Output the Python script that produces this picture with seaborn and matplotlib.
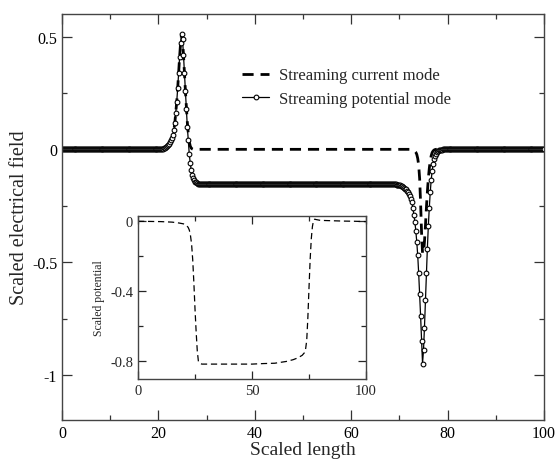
import numpy as np
import pandas as pd
import seaborn as sns
import matplotlib
matplotlib.use("Agg")
import matplotlib.pyplot as plt
from matplotlib.ticker import MultipleLocator

# ---------------- data ----------------
# flat parts of the profiles, sampled every 0.2 length units
grid_left = np.arange(0.0, 20.21, 0.2)
grid_mid = np.arange(29.2, 69.01, 0.2)
grid_right = np.arange(80.2, 100.01, 0.2)
level_left = 0.0
level_mid_potential = -0.155
level_mid_current = 0.0
level_right = 0.0

# peak near x = 25 (x from 20.4 to 29.0, step 0.2)
peak_x = np.round(np.arange(20.4, 29.01, 0.2), 1)
peak_potential = [0.0, 0.001, 0.002, 0.003, 0.005, 0.007, 0.010, 0.014, 0.018, 0.024,
                  0.031, 0.040, 0.050, 0.062, 0.085, 0.115, 0.16, 0.21, 0.27, 0.34,
                  0.41, 0.47, 0.51, 0.49, 0.42, 0.34, 0.26, 0.18, 0.10, 0.04,
                  -0.02, -0.06, -0.09, -0.115, -0.128, -0.137, -0.143, -0.147, -0.150, -0.152,
                  -0.153, -0.154, -0.155, -0.155]
peak_current = [0.0, 0.001, 0.002, 0.003, 0.005, 0.007, 0.010, 0.014, 0.018, 0.024,
                0.031, 0.040, 0.050, 0.062, 0.085, 0.115, 0.16, 0.21, 0.27, 0.34,
                0.41, 0.47, 0.51, 0.49, 0.42, 0.34, 0.26, 0.19, 0.12, 0.07,
                0.035, 0.015, 0.006, 0.002, 0.0, 0.0, 0.0, 0.0, 0.0, 0.0,
                0.0, 0.0, 0.0, 0.0]

# dip near x = 75 (x from 69.2 to 80.0, step 0.2)
dip_x = np.round(np.arange(69.2, 80.01, 0.2), 1)
dip_potential = [-0.155, -0.156, -0.157, -0.158, -0.159, -0.160, -0.162, -0.164, -0.167, -0.170,
                 -0.174, -0.178, -0.184, -0.19, -0.198, -0.207, -0.218, -0.235, -0.26, -0.29,
                 -0.32, -0.36, -0.41, -0.47, -0.55, -0.64, -0.74, -0.85, -0.95, -0.89,
                 -0.79, -0.67, -0.55, -0.44, -0.34, -0.26, -0.19, -0.135, -0.095, -0.065,
                 -0.045, -0.03, -0.02, -0.013, -0.008, -0.005, -0.003, -0.002, -0.001, -0.0005,
                 0.0, 0.0, 0.0, 0.0, 0.0]
dip_current = [0.0, 0.0, 0.0, 0.0, 0.0, 0.0, 0.0, 0.0, 0.0, 0.0,
               0.0, 0.0, 0.0, 0.0, 0.0, 0.0, -0.001, -0.002, -0.003, -0.005,
               -0.008, -0.013, -0.022, -0.04, -0.07, -0.13, -0.24, -0.37, -0.46, -0.46,
               -0.41, -0.34, -0.26, -0.19, -0.13, -0.085, -0.05, -0.028, -0.014, -0.007,
               -0.003, -0.001, 0.0, 0.0, 0.0, 0.0, 0.0, 0.0, 0.0, 0.0,
               0.0, 0.0, 0.0, 0.0, 0.0]

# inset: scaled potential
inset_x = [0, 10, 15, 18, 20, 21, 22, 22.5, 23, 23.5, 24, 24.5, 25, 25.5, 26, 26.5, 27, 28,
           30, 40, 50, 55, 60, 65, 68, 70, 72, 73, 73.5, 74, 74.5, 75, 75.5, 76, 76.5,
           77, 77.5, 78, 80, 85, 90, 95, 100]
inset_y = [0, -0.002, -0.005, -0.01, -0.015, -0.02, -0.035, -0.05, -0.08, -0.13, -0.22, -0.35,
           -0.5, -0.63, -0.74, -0.8, -0.81, -0.815, -0.815, -0.815, -0.815, -0.812, -0.81,
           -0.80, -0.79, -0.78, -0.765, -0.75, -0.73, -0.68, -0.55, -0.38, -0.22, -0.1, -0.03,
           0.005, 0.012, 0.01, 0.005, 0.003, 0.001, 0.0, -0.002]

x_ticks = [0, 20, 40, 60, 80, 100]
x_ticklabels = ["0", "20", "40", "60", "80", "100"]
y_ticks = [0.5, 0, -0.5, -1]
y_ticklabels = ["0.5", "0", "-0.5", "-1"]
inset_xticks = [0, 50, 100]
inset_yticks = [0, -0.4, -0.8]
inset_yticklabels = ["0", "-0.4", "-0.8"]

label_current = "Streaming current mode"
label_potential = "Streaming potential mode"

# ---------------- tables ----------------
x_all = np.concatenate([grid_left, peak_x, grid_mid, dip_x, grid_right])
pot_all = np.concatenate([np.full(len(grid_left), level_left), peak_potential,
                          np.full(len(grid_mid), level_mid_potential), dip_potential,
                          np.full(len(grid_right), level_right)])
cur_all = np.concatenate([np.full(len(grid_left), level_left), peak_current,
                          np.full(len(grid_mid), level_mid_current), dip_current,
                          np.full(len(grid_right), level_right)])
df = pd.DataFrame({"x": x_all, "potential": pot_all, "current": cur_all})
df_in = pd.DataFrame({"x": inset_x, "y": inset_y})

# ---------------- style ----------------
sns.set_style("ticks")
plt.rcParams["font.family"] = ["Liberation Serif", "DejaVu Serif"]

fig = plt.figure(figsize=(5.56, 4.60), dpi=100)
ax = fig.add_axes([62 / 556, 1 - 421 / 460, 482 / 556, 406 / 460])

sns.lineplot(data=df, x="x", y="current", ax=ax, color="black", linewidth=2.0,
             linestyle=(0, (4, 2.5)), label=label_current, sort=False)
sns.lineplot(data=df, x="x", y="potential", ax=ax, color="black", linewidth=0.9,
             marker="o", markersize=3.4, markerfacecolor="white", markeredgecolor="black",
             markeredgewidth=0.8, label=label_potential, sort=False)

ax.set_xlim(0, 100)
ax.set_ylim(-1.2, 0.6)
ax.set_xticks(x_ticks)
ax.set_xticklabels(x_ticklabels)
ax.set_yticks(y_ticks)
ax.set_yticklabels(y_ticklabels)
ax.xaxis.set_minor_locator(MultipleLocator(10))
ax.yaxis.set_minor_locator(MultipleLocator(0.25))
ax.tick_params(which="both", direction="in", top=True, right=True, labelsize=11.5,
               colors="#333333", labelcolor="black")
ax.tick_params(which="major", length=7, width=0.9)
ax.tick_params(which="minor", length=3.5, width=0.9)
for s in ax.spines.values():
    s.set_linewidth(1.0)
    s.set_color("#444444")
ax.set_xlabel("Scaled length", fontsize=14, labelpad=0)
ax.set_ylabel("Scaled electrical field", fontsize=14.5, labelpad=2)

leg = ax.legend(loc="upper left", bbox_to_anchor=(0.36, 0.885), frameon=False, fontsize=12,
                handlelength=1.6, handletextpad=0.6, labelspacing=0.45, borderaxespad=0)

# inset
axi = fig.add_axes([138 / 556, 1 - 380 / 460, 228 / 556, 163 / 460])
sns.lineplot(data=df_in, x="x", y="y", ax=axi, color="black", linewidth=0.9,
             linestyle=(0, (5, 3)), sort=False)
axi.set_xlim(0, 100)
axi.set_ylim(-0.9, 0.03)
axi.set_xticks(inset_xticks)
axi.set_yticks(inset_yticks)
axi.set_yticklabels(inset_yticklabels)
axi.xaxis.set_minor_locator(MultipleLocator(25))
axi.yaxis.set_minor_locator(MultipleLocator(0.2))
axi.tick_params(which="both", direction="in", top=True, right=True, labelsize=10.5)
axi.tick_params(which="major", length=6, width=0.9)
axi.tick_params(which="minor", length=3.5, width=0.9)
for s in axi.spines.values():
    s.set_linewidth(1.0)
    s.set_color("#444444")
axi.set_xlabel("")
axi.set_ylabel("Scaled potential", fontsize=8.5, labelpad=4)

fig.savefig("out.png", dpi=100)
